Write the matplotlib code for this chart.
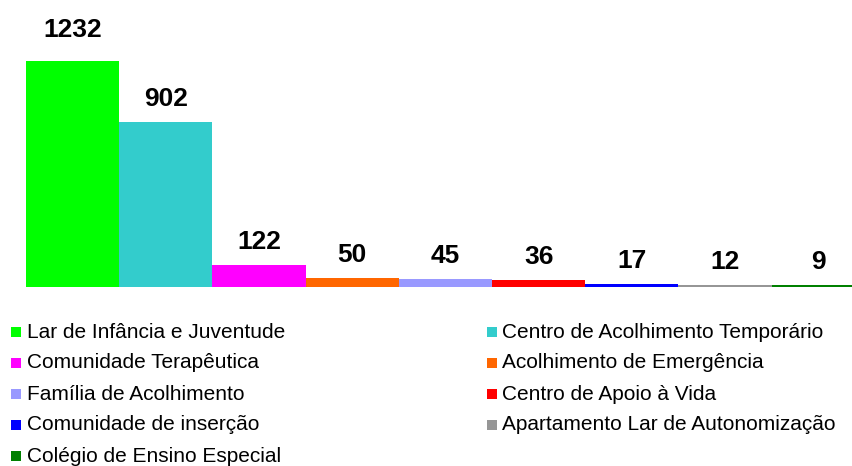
import matplotlib
matplotlib.use("Agg")
import matplotlib.pyplot as plt
from matplotlib.patches import Rectangle

categories = [
    "Lar de Infância e Juventude",
    "Centro de Acolhimento Temporário",
    "Comunidade Terapêutica",
    "Acolhimento de Emergência",
    "Família de Acolhimento",
    "Centro de Apoio à Vida",
    "Comunidade de inserção",
    "Apartamento Lar de Autonomização",
    "Colégio de Ensino Especial",
]
values = [1232, 902, 122, 50, 45, 36, 17, 12, 9]
colors = ["#00FF00", "#33CCCC", "#FF00FF", "#FF6600", "#9999FF",
          "#FF0000", "#0000FF", "#969696", "#008000"]

plt.rcParams["font.family"] = ["Liberation Sans", "DejaVu Sans"]

W, H = 852, 466
fig = plt.figure(figsize=(W / 100, H / 100), dpi=100)

# plot area: baseline at y=287px, full width (last bar runs off the edge)
base_px = 287
ax = fig.add_axes([0, (H - base_px) / H, 1, base_px / H])
bar_px = 93.2
left_px = 26
ax.set_xlim(-left_px / bar_px, (W - left_px) / bar_px)
ax.set_ylim(0, max(values) * base_px / 226)
ax.axis("off")

x = list(range(len(values)))
ax.bar(x, values, width=1.0, align="edge", color=colors, linewidth=0)

for xi, v in zip(x, values):
    off = 24 if v == max(values) else 16
    ax.annotate(str(v), (xi + 0.5, v), xytext=(0, off), textcoords="offset pixels",
                ha="center", va="baseline", fontsize=19, fontweight="bold")

# legend, two columns filled row by row
row_y = [332, 363, 394, 425, 456]
col_marker = [11, 487]
col_text = [27, 502]
for i, (lab, c) in enumerate(zip(categories, colors)):
    r, col = divmod(i, 2)
    y = row_y[r]
    fig.patches.append(Rectangle(((col_marker[col]) / W, (H - y - 5) / H), 10 / W, 10 / H,
                                 transform=fig.transFigure, facecolor=c, edgecolor="none"))
    fig.text(col_text[col] / W, (H - y) / H, lab, fontsize=15, va="center", ha="left")

fig.savefig("out.png", dpi=100)
